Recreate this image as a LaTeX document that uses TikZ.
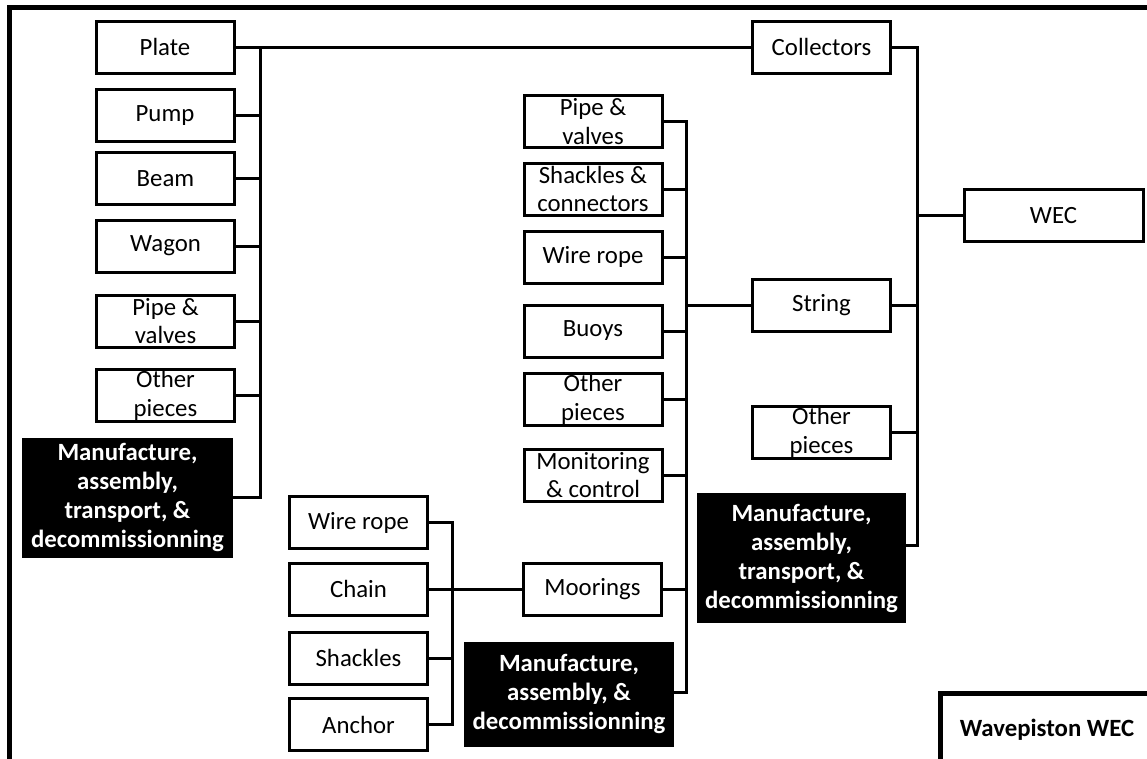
\documentclass[tikz,border=0pt]{standalone}
\usepackage{fontspec}
\setmainfont{Carlito}
\begin{document}
\begin{tikzpicture}[x=1pt,y=-1pt,
  box/.style={draw=black, line width=3pt, fill=white, minimum width=138pt, minimum height=52pt,
    inner sep=0pt, align=center, font=\fontsize{24.8}{28.5}\selectfont},
  blk/.style={fill=black, text=white, inner sep=0pt, align=center,
    font=\fontsize{24.8}{29}\selectfont\bfseries},
  wire/.style={line width=3pt, line cap=rect},
  frame/.style={line width=5pt}]
\useasboundingbox (0,0) rectangle (1147,758);
\clip (0,0) rectangle (1147,758);
% outer frame
\draw[frame] (9.8,780) -- (9.8,7.3) -- (1170,7.3);
% bus coordinates
\coordinate (lbus) at (260,0);
\coordinate (rbus) at (917,0);
\coordinate (mbus) at (686,0);
\coordinate (bbus) at (452,0);
% left column
\node[box] (Plate) at (165,47) {Plate};
\node[box] (Pump) at (165,115.5) {Pump};
\node[box] (Beam) at (165.5,178.5) {Beam};
\node[box] (Wagon) at (165.5,246) {Wagon};
\node[box] (LPipe) at (165.5,321) {Pipe \&\\valves};
\node[box] (LOther) at (165.5,395.5) {Other\\pieces};
\node[blk, minimum width=211pt, minimum height=120pt] (Blk1) at (127.5,497.5) {Manufacture,\\assembly,\\transport, \&\\decommissionning};
% right column
\node[box] (Collectors) at (821.5,47) {Collectors};
\node[box] (String) at (821.5,305.5) {String};
\node[box] (ROther) at (821.5,432.5) {Other\\pieces};
\node[box, minimum width=179pt] (WEC) at (1053.5,215.5) {WEC};
\node[blk, minimum width=209pt, minimum height=130pt] (Blk2) at (801.5,558) {Manufacture,\\assembly,\\transport, \&\\decommissionning};
\coordinate (rbend) at (917,545);
% middle column
\node[box] (MPipe) at (593,121.5) {Pipe \&\\valves};
\node[box] (MShack) at (593,189) {Shackles \&\\connectors};
\node[box] (MWire) at (593,257) {Wire rope};
\node[box] (MBuoys) at (593,331) {Buoys};
\node[box] (MOther) at (593,399.5) {Other\\pieces};
\node[box] (MMon) at (593,475) {Monitoring\\\& control};
\node[box] (Moorings) at (592.5,589) {Moorings};
\node[blk, minimum width=210pt, minimum height=105pt] (Blk3) at (569,694) {Manufacture,\\assembly, \&\\decommissionning};
\coordinate (mbend) at (686,692);
% bottom-left column
\node[box] (BWire) at (358.5,522.5) {Wire rope};
\node[box] (BChain) at (358.5,589) {Chain};
\node[box] (BShack) at (358.5,658) {Shackles};
\node[box] (BAnchor) at (358.5,724.5) {Anchor};
% title box
\node[draw=black, line width=5pt, minimum width=213pt, minimum height=72.5pt, inner sep=0pt,
  font=\fontsize{24.8}{29}\selectfont\bfseries] (Title) at (1047,730) {Wavepiston WEC};
% left connectors
\draw[wire] (Plate.east) -- (Collectors.west);
\draw[wire] (Plate.east -| lbus) -- (Blk1.east -| lbus);
\foreach \n in {Pump,Beam,Wagon,LPipe,LOther,Blk1}
  \draw[wire] (\n.east) -- (\n.east -| lbus);
% right connectors
\draw[wire] (Collectors.east) -- (Collectors.east -| rbus) -- (rbend);
\draw[wire] (WEC.west) -- (WEC.west -| rbus);
\draw[wire] (String.east) -- (String.east -| rbus);
\draw[wire] (ROther.east) -- (ROther.east -| rbus);
\draw[wire] (Blk2.east |- rbend) -- (rbend);
% middle connectors
\draw[wire] (MPipe.east) -- (MPipe.east -| mbus) -- (mbend);
\foreach \n in {MShack,MWire,MBuoys,MOther,MMon,Moorings}
  \draw[wire] (\n.east) -- (\n.east -| mbus);
\draw[wire] (Blk3.east |- mbend) -- (mbend);
\draw[wire] (String.west -| mbus) -- (String.west);
% bottom connectors
\draw[wire] (BWire.east) -- (BWire.east -| bbus) -- (BAnchor.east -| bbus);
\foreach \n in {BShack,BAnchor}
  \draw[wire] (\n.east) -- (\n.east -| bbus);
\draw[wire] (BChain.east) -- (Moorings.west);
\end{tikzpicture}
\end{document}
